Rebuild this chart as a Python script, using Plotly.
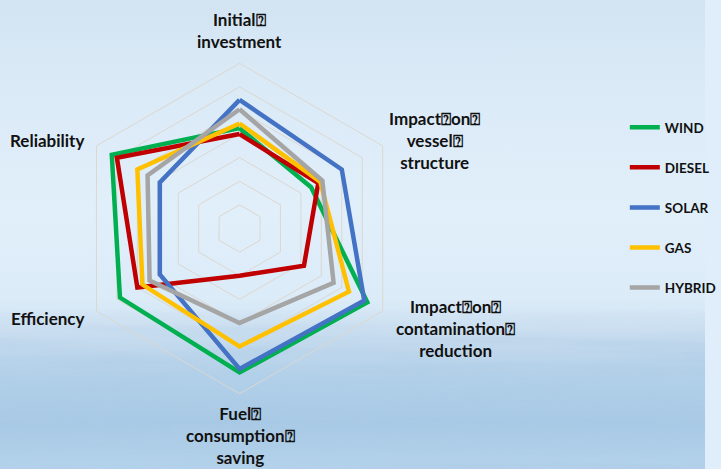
import base64
import plotly.graph_objects as go

# Radar axes, clockwise from the top
categories = [
    "Initial\u2370<br>investment",
    "Impact\u2370on\u2370<br>vessel\u2370<br>structure",
    "Impact\u2370on\u2370<br>contamination\u2370<br>reduction",
    "Fuel\u2370<br>consumption\u2370<br>saving",
    "Efficiency",
    "Reliability",
]

series_names = ["WIND", "DIESEL", "SOLAR", "GAS", "HYBRID"]
wind = [4.25, 3.5, 6.25, 6.1, 5.85, 6.25]
diesel = [4.0, 3.85, 3.15, 2.0, 5.0, 6.0]
solar = [5.45, 5.0, 6.1, 5.95, 3.9, 3.9]
gas = [4.45, 3.95, 5.35, 5.0, 4.75, 5.0]
hybrid = [5.05, 4.05, 4.6, 4.0, 4.4, 4.5]
series_values = [wind, diesel, solar, gas, hybrid]
series_colors = ["#00B050", "#C00000", "#4472C4", "#FFC000", "#A5A5A5"]

W, H = 721, 469

# Sky-and-sea backdrop as an inline SVG
sky_svg = f"""<svg xmlns="http://www.w3.org/2000/svg" width="{W}" height="{H}">
<defs>
<linearGradient id="g" x1="0" y1="0" x2="0" y2="1">
<stop offset="0" stop-color="#d2e3f2"/>
<stop offset="0.15" stop-color="#d9e9f6"/>
<stop offset="0.45" stop-color="#e1effa"/>
<stop offset="0.64" stop-color="#dbebf8"/>
<stop offset="0.72" stop-color="#c6dbee"/>
<stop offset="0.80" stop-color="#b2d0e9"/>
<stop offset="0.90" stop-color="#a8c9e5"/>
<stop offset="1" stop-color="#b4d2eb"/>
</linearGradient>
<linearGradient id="m" x1="0" y1="0" x2="0" y2="1">
<stop offset="0" stop-color="#fff" stop-opacity="0"/>
<stop offset="0.66" stop-color="#fff" stop-opacity="0"/>
<stop offset="0.76" stop-color="#fff" stop-opacity="1"/>
<stop offset="1" stop-color="#fff" stop-opacity="1"/>
</linearGradient>
<mask id="mk"><rect width="{W}" height="{H}" fill="url(#m)"/></mask>
<filter id="waves" x="0" y="0" width="100%" height="100%">
<feTurbulence type="fractalNoise" baseFrequency="0.005 0.08" numOctaves="3" seed="4"/>
<feColorMatrix type="matrix" values="0 0 0 0 0.42  0 0 0 0 0.60  0 0 0 0 0.78  0 0 0 2.2 -0.9"/>
</filter>
</defs>
<rect width="{W}" height="{H}" fill="url(#g)"/>
<rect width="{W}" height="{H}" filter="url(#waves)" mask="url(#mk)" opacity="0.5"/>
</svg>"""
sky_uri = "data:image/svg+xml;base64," + base64.b64encode(sky_svg.encode()).decode()

fig = go.Figure()

for name, vals, color in zip(series_names, series_values, series_colors):
    fig.add_trace(go.Scatterpolar(
        r=vals + vals[:1],
        theta=categories + categories[:1],
        mode="lines",
        name=name,
        legendgroup=name,
        line=dict(color=color, width=4.5),
        hoverinfo="skip",
    ))

grid_color = "#dcd7cf"

# Category labels placed around the web
label_pos = [
    (245, 30),
    (444, 140),
    (466, 328),
    (246, 435),
    (49, 318),
    (48, 140),
]
annotations = []
for text, (px, py) in zip(categories, label_pos):
    annotations.append(dict(
        text=text, x=px / W, y=1 - py / H, xref="paper", yref="paper",
        xanchor="center", yanchor="middle", align="center", showarrow=False,
        font=dict(family="Lato", size=17, color="#111111", weight="bold"),
    ))

cx, cy, R = 245, 228.5, 169
fig.update_layout(
    width=W, height=H,
    margin=dict(l=0, r=0, t=0, b=0),
    paper_bgcolor="#dfeefa",
    images=[dict(source=sky_uri, xref="paper", yref="paper", x=0, y=1,
                 sizex=1, sizey=1, sizing="stretch", layer="below")],
    polar=dict(
        domain=dict(x=[(cx - R) / W, (cx + R) / W],
                    y=[(H - cy - R) / H, (H - cy + R) / H]),
        bgcolor="rgba(0,0,0,0)",
        gridshape="linear",
        radialaxis=dict(range=[0, 7], dtick=1, tick0=0, showticklabels=False,
                        ticks="", showline=False, gridcolor=grid_color, gridwidth=1),
        angularaxis=dict(type="category", rotation=90, direction="clockwise",
                         categoryorder="array", categoryarray=categories,
                         showgrid=False, ticks="", showticklabels=False,
                         showline=True, linecolor=grid_color, linewidth=1),
    ),
    showlegend=True,
    legend=dict(x=639 / W, y=1 - 112 / H, xanchor="left", yanchor="top",
                bgcolor="rgba(0,0,0,0)", tracegroupgap=19.5, itemwidth=30,
                font=dict(family="Lato", size=13.5, color="#111111", weight="bold")),
    annotations=annotations,
)

fig.write_html("out.html")
